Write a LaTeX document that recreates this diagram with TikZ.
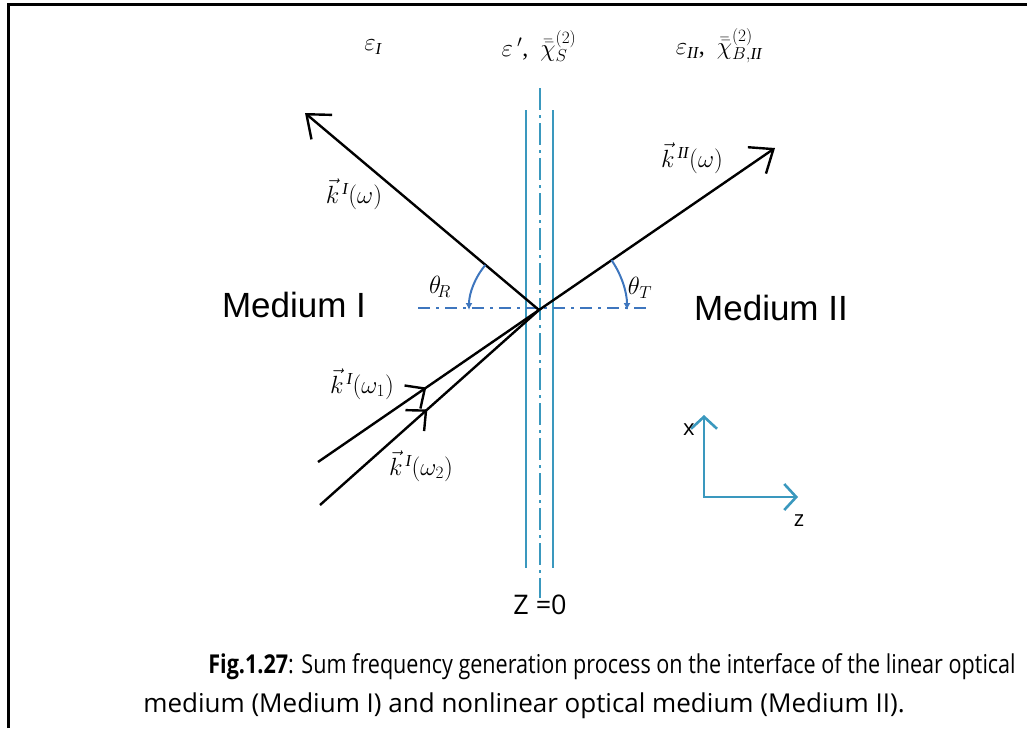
\documentclass[tikz,border=0pt]{standalone}
\usepackage{fontspec}
\setmainfont{Liberation Serif}
\newfontfamily\arialf{Liberation Sans}
\newfontfamily\capf{Open Sans}
\usetikzlibrary{arrows.meta,decorations.markings}
\definecolor{tealc}{RGB}{58,152,190}
\definecolor{bluec}{RGB}{62,118,190}
\tikzset{
  frameline/.style={line width=3pt,black},
  beam/.style={line width=2.4pt,black},
  bigtip/.style={-{Straight Barb[length=20pt,width=32pt,line width=2.4pt]}},
  midtip/.style={postaction={decorate},decoration={markings,
     mark=at position 0.49 with {\arrow{Straight Barb[length=15pt,width=28pt,line width=2.4pt]}}}},
  layer/.style={line width=2.2pt,tealc},
  centerline/.style={line width=2pt,tealc,dash pattern=on 22pt off 5pt on 3pt off 5pt},
  hline/.style={line width=1.8pt,bluec,dash pattern=on 12pt off 6pt on 3pt off 6pt},
  anglearc/.style={line width=2pt,bluec,-{Latex[length=7pt,width=7pt]}},
  axisline/.style={line width=2.6pt,tealc},
  mlabel/.style={inner sep=0pt,font=\fontsize{24}{28}\selectfont},
  medium/.style={inner sep=0pt,font=\arialf\fontsize{35}{40}\selectfont},
  caption/.style={inner sep=0pt,font=\capf\fontsize{26}{30}\selectfont},
}
\begin{document}
\begin{tikzpicture}[x=1pt,y=-1pt]
\useasboundingbox (0,0) rectangle (1027,728);
\draw[frameline] (8,728) -- (8,4) -- (1027,4);

% interface layer
\draw[layer] (526,110) -- (526,568);
\draw[layer] (553,110) -- (553,568);
\draw[centerline] (540,88) -- (540,598);

% key points
\coordinate (O) at (539,310);
\coordinate (R) at (305,113);
\coordinate (T) at (775,148);
\coordinate (A1) at (318,462);
\coordinate (A2) at (320,505);
\coordinate (HL) at (418,308);
\coordinate (HR) at (648,308);

\draw[hline] (HL) -- (HR);

% beams
\draw[beam,bigtip] (O) -- (R);
\draw[beam,bigtip] (O) -- (T);
\draw[beam,midtip] (A1) -- (O);
\draw[beam,midtip] (A2) -- (O);

% angle arcs
\draw[anglearc] (O) ++(220:70) arc[start angle=220,end angle=180,radius=70];
\draw[anglearc] (O) ++(-34.5:88) arc[start angle=-34.5,end angle=0,radius=88];

% labels
\node[mlabel] (eI) at (373,47) {$\varepsilon_{\mathit{I}}$};
\node[mlabel] (eS) at (539,46) {$\varepsilon\,'$,\ \ $\bar{\bar{\chi}}{}_S^{(2)}$};
\node[mlabel] (eII) at (719,46) {$\varepsilon_{\mathit{II}}$,\ \ $\bar{\bar{\chi}}{}_{B,\mathit{II}}^{(2)}$};
\node[mlabel] (kR) at (354,194) {$\vec{k}^{\,\mathit{I}}(\omega)$};
\node[mlabel] (kT) at (692,158) {$\vec{k}^{\,\mathit{II}}(\omega)$};
\node[mlabel] (k1) at (362,384) {$\vec{k}^{\,\mathit{I}}(\omega_1)$};
\node[mlabel] (k2) at (421,466) {$\vec{k}^{\,\mathit{I}}(\omega_2)$};
\node[mlabel] (thR) at (440,287) {$\theta_{\!R}$};
\node[mlabel] (thT) at (640,288) {$\theta_{T}$};

\node[medium] (m1) at (294,305) {Medium I};
\node[medium] (m2) at (771,308) {Medium II};

% axes
\coordinate (ax0) at (704,497);
\coordinate (axx) at (704,415);
\coordinate (axz) at (798,497);
\draw[axisline,{Straight Barb[length=12pt,width=26pt,line width=2.6pt]}-{Straight Barb[length=12pt,width=26pt,line width=2.6pt]}] (axx) -- (ax0) -- (axz);
\node[inner sep=0pt,font=\capf\fontsize{22}{26}\selectfont] (xl) at (689,430) {x};
\node[inner sep=0pt,font=\capf\fontsize{22}{26}\selectfont] (zl) at (799,521) {z};

\node[inner sep=0pt,font=\capf\fontsize{27}{30}\selectfont] (z0) at (540,605) {Z =0};

% caption
\node[caption] (c1) at (612,667) {\scalebox{0.83}[1]{\textbf{Fig.1.27}: Sum frequency generation process on the interface of the linear optical}};
\node[caption] (c2) at (524,706) {medium (Medium I) and nonlinear optical medium (Medium II).};
\end{tikzpicture}
\end{document}
